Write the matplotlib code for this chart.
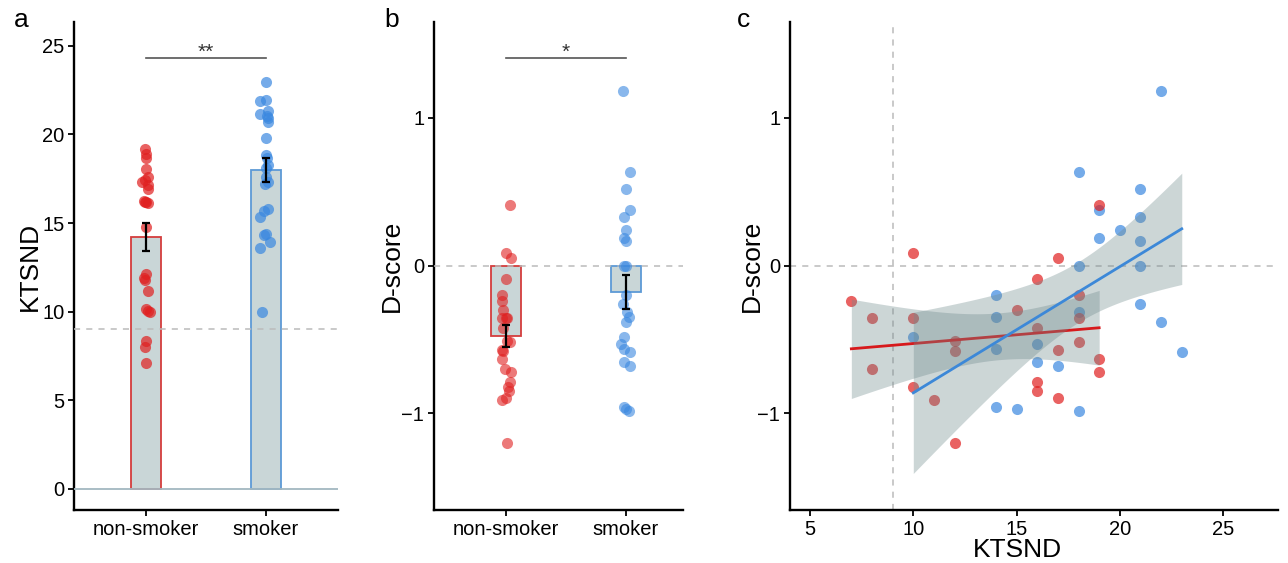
import numpy as np
import matplotlib.pyplot as plt

plt.rcParams['font.family'] = ['Liberation Sans', 'DejaVu Sans']

groups = ['non-smoker', 'smoker']

# panel c: KTSND / D-score for each subject
ktsnd_non = [19, 10, 17, 16, 18, 7, 15, 8, 10, 18, 16, 12, 18, 17, 12, 19, 8, 19, 16, 10, 16, 17, 11, 12]
dscore_non = [0.41, 0.085, 0.05, -0.09, -0.20, -0.24, -0.30, -0.355, -0.355, -0.355, -0.42, -0.51,
              -0.52, -0.57, -0.58, -0.63, -0.70, -0.72, -0.79, -0.82, -0.85, -0.895, -0.91, -1.20]
ktsnd_smk = [22, 18, 21, 19, 21, 20, 19, 21, 18, 21, 14, 21, 18, 14, 22, 10, 16, 14, 23, 16, 17, 14, 15, 18]
dscore_smk = [1.18, 0.635, 0.52, 0.375, 0.33, 0.24, 0.19, 0.17, 0.0, 0.0, -0.20, -0.26, -0.315, -0.345,
              -0.38, -0.485, -0.53, -0.565, -0.585, -0.65, -0.68, -0.96, -0.97, -0.985]

# panel a: jittered KTSND positions as drawn
ka_non = [19.16, 18.92, 18.7, 18.05, 17.6, 17.45, 17.3, 17.15, 16.95, 16.25, 16.2, 16.15, 16.2, 14.75,
          12.15, 11.9, 11.76, 11.15, 10.15, 10.05, 9.98, 8.34, 8.02, 7.12]
ka_non_dx = [-0.01, 0.0, 0.0, 0.0, 0.02, -0.01, -0.03, 0.02, 0.02, -0.02, 0.0, 0.02, -0.01, 0.0,
             0.0, -0.02, -0.01, 0.02, 0.0, 0.02, 0.03, 0.0, -0.01, 0.0]
ka_smk = [22.95, 21.97, 21.9, 21.3, 21.16, 20.94, 20.72, 21.05, 19.8, 18.85, 18.7, 18.28, 18.1, 17.6,
          17.3, 17.2, 15.78, 15.7, 15.32, 14.4, 14.35, 13.91, 13.57, 9.97]
ka_smk_dx = [0.0, 0.0, -0.05, 0.02, -0.05, 0.02, 0.02, 0.01, 0.0, 0.0, 0.01, 0.02, 0.0, 0.0,
             0.02, -0.01, 0.02, -0.02, -0.05, 0.0, -0.02, 0.03, -0.05, -0.03]

# panel b: x jitter of D-score points as drawn
db_non_dx = [0.036, 0.0, 0.04, 0.0, -0.035, -0.035, -0.025, 0.0, -0.035, 0.01, -0.02, 0.01,
             0.035, -0.03, -0.02, -0.035, -0.01, 0.04, 0.035, 0.02, 0.025, 0.0, -0.035, 0.01]
db_smk_dx = [-0.025, 0.035, 0.0, 0.035, -0.01, 0.0, -0.015, 0.0, 0.0, -0.015, 0.0, -0.025, 0.01,
             0.025, 0.0, -0.015, -0.035, -0.01, 0.035, -0.015, 0.035, -0.015, 0.0, 0.025]

RED = '#e02020'
BLUE = '#3a88e0'
RED_EDGE = '#d43d3d'
BLUE_EDGE = '#5d9ad6'
BAR_FILL = '#c9d6d7'
BAND = '#6f8a8c'
PT = 64

W, H = 1288, 563
fig = plt.figure(figsize=(W / 100, H / 100), dpi=100)


def px_axes(l, t, r, b):
    return fig.add_axes([l / W, 1 - b / H, (r - l) / W, (b - t) / H])


def style(ax):
    for s in ['top', 'right']:
        ax.spines[s].set_visible(False)
    for s in ['left', 'bottom']:
        ax.spines[s].set_linewidth(1.7)
    ax.tick_params(length=4, width=1.3, labelsize=14.5, colors='black', pad=3)


def mean_se(v):
    v = np.asarray(v)
    return v.mean(), v.std(ddof=1) / np.sqrt(len(v))


ax_a = px_axes(74, 22, 338, 510)
ax_b = px_axes(434, 22, 683, 510)
ax_c = px_axes(790, 22, 1278, 510)

# ---- panel a
m1, s1 = mean_se(ktsnd_non)
m2, s2 = mean_se(ktsnd_smk)
ax_a.bar([1, 2], [m1, m2], width=0.25, color=BAR_FILL, edgecolor=[RED_EDGE, BLUE_EDGE], linewidth=1.3, zorder=2)
ax_a.axhline(0, color='#a3b8c0', lw=1.3, zorder=3)
ax_a.axhline(9, color='#bbbbbb', lw=1.1, ls=(0, (4, 4)), zorder=3)
ax_a.scatter(1 + np.array(ka_non_dx), ka_non, s=PT, color=RED, alpha=0.7, lw=0, zorder=4)
ax_a.scatter(2 + np.array(ka_smk_dx), ka_smk, s=PT, color=BLUE, alpha=0.7, lw=0, zorder=4)
ax_a.errorbar([1, 2], [m1, m2], yerr=[s1, s2], fmt='none', ecolor='black', elinewidth=1.6,
              capsize=2.7, capthick=1.6, zorder=5)
ax_a.plot([1, 2], [24.3, 24.3], color='#555555', lw=1.2)
ax_a.text(1.5, 24.35, '**', ha='center', va='baseline', fontsize=15, color='#333333')
ax_a.set_xlim(0.4, 2.6)
ax_a.set_ylim(-1.2, 26.35)
ax_a.set_xticks([1, 2], groups)
ax_a.set_yticks([0, 5, 10, 15, 20, 25])
style(ax_a)

# ---- panel b
m1, s1 = mean_se(dscore_non)
m2, s2 = mean_se(dscore_smk)
ax_b.bar([1, 2], [m1, m2], width=0.25, color=BAR_FILL, edgecolor=[RED_EDGE, BLUE_EDGE], linewidth=1.3, zorder=2)
ax_b.axhline(0, color='#bbbbbb', lw=1.1, ls=(0, (4, 4)), zorder=3)
ax_b.scatter(1 + np.array(db_non_dx), dscore_non, s=PT, color=RED, alpha=0.6, lw=0, zorder=4)
ax_b.scatter(2 + np.array(db_smk_dx), dscore_smk, s=PT, color=BLUE, alpha=0.6, lw=0, zorder=4)
ax_b.errorbar([1, 2], [m1, m2], yerr=[s1, s2], fmt='none', ecolor='black', elinewidth=1.6,
              capsize=2.7, capthick=1.6, zorder=5)
ax_b.plot([1, 2], [1.404, 1.404], color='#555555', lw=1.2)
ax_b.text(1.5, 1.408, '*', ha='center', va='baseline', fontsize=15, color='#333333')
ax_b.set_xlim(0.4, 2.48)
ax_b.set_ylim(-1.655, 1.65)
ax_b.set_xticks([1, 2], groups)
ax_b.set_yticks([-1, 0, 1], ['\u22121', '0', '1'])
style(ax_b)

# ---- panel c
ax_c.axhline(0, color='#bbbbbb', lw=1.1, ls=(0, (4, 4)), zorder=1)
ax_c.axvline(9, color='#bbbbbb', lw=1.1, ls=(0, (4, 4)), zorder=1)
ax_c.scatter(ktsnd_smk, dscore_smk, s=PT, color=BLUE, alpha=0.7, lw=0, zorder=2)
ax_c.scatter(ktsnd_non, dscore_non, s=PT, color=RED, alpha=0.7, lw=0, zorder=2)

T975 = 2.074  # t quantile, df = 22
z = 3
for xs, ys, col in [(ktsnd_non, dscore_non, '#d7191c'), (ktsnd_smk, dscore_smk, '#3c88d8')]:
    x = np.asarray(xs, float)
    y = np.asarray(ys, float)
    b, a = np.polyfit(x, y, 1)
    res = y - (a + b * x)
    sig = np.sqrt(np.sum(res ** 2) / (len(x) - 2))
    xg = np.linspace(x.min(), x.max(), 80)
    se = sig * np.sqrt(1 / len(x) + (xg - x.mean()) ** 2 / np.sum((x - x.mean()) ** 2))
    fit = a + b * xg
    ax_c.fill_between(xg, fit - T975 * se, fit + T975 * se, color=BAND, alpha=0.35, lw=0, zorder=z)
    ax_c.plot(xg, fit, color=col, lw=2, zorder=z + 1)
    z += 2

ax_c.set_xlim(4.03, 27.66)
ax_c.set_ylim(-1.655, 1.65)
ax_c.set_xticks([5, 10, 15, 20, 25])
ax_c.set_yticks([-1, 0, 1], ['\u22121', '0', '1'])
style(ax_c)

# labels
fig.text(30 / W, 1 - 266 / H, 'KTSND', rotation=90, ha='center', va='center', fontsize=19)
fig.text(392 / W, 1 - 266 / H, 'D-score', rotation=90, ha='center', va='center', fontsize=19)
fig.text(752 / W, 1 - 266 / H, 'D-score', rotation=90, ha='center', va='center', fontsize=19)
fig.text(1017 / W, 1 - 550 / H, 'KTSND', ha='center', va='center', fontsize=19)
fig.text(21 / W, 1 - 20 / H, 'a', ha='center', va='center', fontsize=19)
fig.text(392 / W, 1 - 20 / H, 'b', ha='center', va='center', fontsize=19)
fig.text(744 / W, 1 - 20 / H, 'c', ha='center', va='center', fontsize=19)

fig.savefig('out.png', dpi=100)
